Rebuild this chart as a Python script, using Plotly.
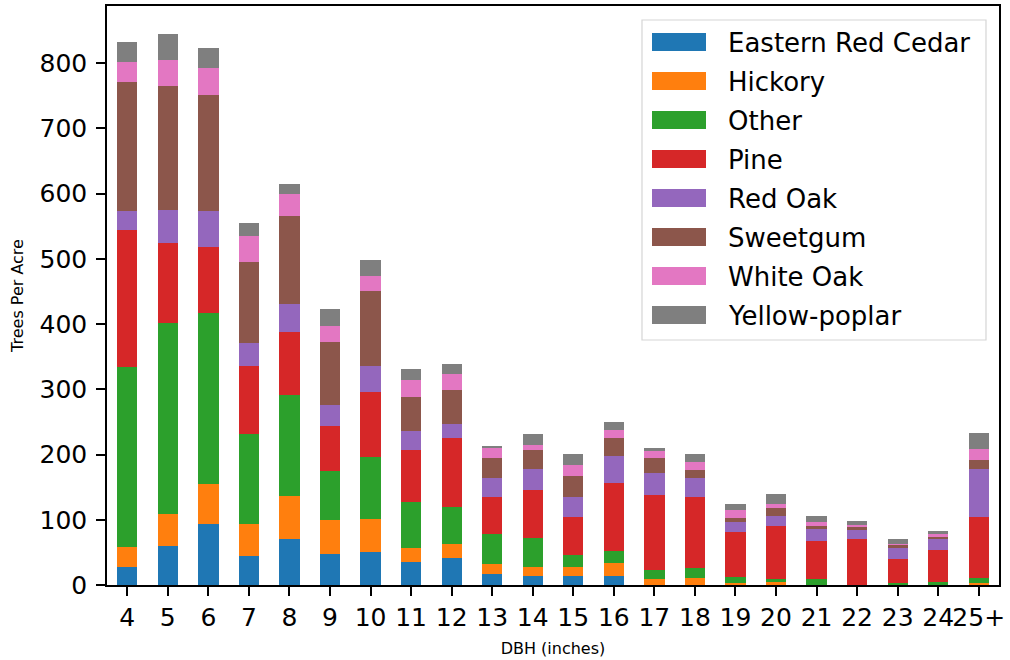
import plotly.graph_objects as go

# DBH classes (inches)
dbh_classes = ["4", "5", "6", "7", "8", "9", "10", "11", "12", "13", "14",
               "15", "16", "17", "18", "19", "20", "21", "22", "23", "24", "25+"]

# Trees per acre by species group for each DBH class
eastern_red_cedar = [28, 60, 93.5, 44, 70.5, 47.5, 50.6, 35, 41.4, 16.6, 13.8,
                     13.8, 13.8, 0, 0, 0, 0, 0, 0, 0, 0, 0]
hickory = [30, 49, 61, 49, 66, 52, 50.6, 21.5, 21.4, 15.4, 13.8,
           13.8, 20, 9.2, 10.7, 3, 4.6, 0, 0, 0, 0, 3]
other = [276, 293, 262, 138, 154, 75, 95, 70.5, 56.7, 46, 44.4,
         18.4, 18.4, 13.8, 15.3, 9.3, 4.6, 9.2, 0, 3, 4.6, 7.7]
pine = [210, 122.5, 102, 104, 98, 69, 100, 80, 105.8, 57, 73.6,
        58.7, 104, 115, 109, 69, 81.2, 58, 70.5, 37, 49, 93.5]
red_oak = [29, 50.7, 55, 35.5, 41.6, 32, 40, 29, 21.4, 29, 32,
           30.6, 41.4, 33.7, 29, 15.4, 15.3, 18.4, 13.8, 17, 17, 73.6]
sweetgum = [198, 190, 178, 124, 135, 96.5, 115, 52, 52, 30.6, 29,
            32, 27.6, 23, 12.3, 6, 12.3, 4.6, 4.6, 4.6, 3, 13.8]
white_oak = [31, 40, 41, 40, 33.5, 25, 23, 26, 24.5, 15.4, 7.6,
             16.8, 12.3, 10.7, 12.3, 12.3, 6, 6, 3, 1.5, 6, 16.8]
yellow_poplar = [30, 40, 30, 21, 15.6, 25.6, 24.5, 17, 15.3, 3, 16.8,
                 16.8, 12.3, 4.6, 12.3, 9.2, 15.5, 9.2, 6, 7.7, 3, 24.5]

species = ["Eastern Red Cedar", "Hickory", "Other", "Pine", "Red Oak",
           "Sweetgum", "White Oak", "Yellow-poplar"]
values_by_species = [eastern_red_cedar, hickory, other, pine, red_oak,
                     sweetgum, white_oak, yellow_poplar]
colors = ["#1f77b4", "#ff7f0e", "#2ca02c", "#d62728",
          "#9467bd", "#8c564b", "#e377c2", "#7f7f7f"]

FONT = "DejaVu Sans"
W, H = 1010, 660
M_L, M_R, M_T, M_B = 107, 11, 6, 75
PLOT_W = W - M_L - M_R
PLOT_H = H - M_T - M_B


def px_x(px):
    """Pixel column -> paper x."""
    return (px - M_L) / PLOT_W


def px_y(py):
    """Pixel row -> paper y."""
    return (H - M_B - py) / PLOT_H


fig = go.Figure()
for name, values, color in zip(species, values_by_species, colors):
    fig.add_trace(go.Bar(
        x=dbh_classes, y=values, name=name, showlegend=False,
        marker=dict(color=color, line=dict(width=0)),
    ))

totals = [sum(v) for v in zip(*values_by_species)]
ymax = max(totals) * 1.05

# Legend box with wide colour patches
shapes = [dict(
    type="rect", xref="paper", yref="paper",
    x0=px_x(642), x1=px_x(986), y0=px_y(340), y1=px_y(20),
    line=dict(color="#d5d5d5", width=1.2), fillcolor="rgba(255,255,255,0.8)",
    layer="above",
)]
annotations = []
row0, row_step = 42, 39
for i, (name, color) in enumerate(zip(species, colors)):
    cy = row0 + i * row_step
    shapes.append(dict(
        type="rect", xref="paper", yref="paper",
        x0=px_x(652), x1=px_x(706), y0=px_y(cy + 9), y1=px_y(cy - 9),
        line=dict(width=0), fillcolor=color, layer="above",
    ))
    annotations.append(dict(
        text=name, xref="paper", yref="paper",
        x=px_x(726), y=px_y(cy + 1), xanchor="left", yanchor="middle",
        showarrow=False, font=dict(family=FONT, size=26, color="black"),
    ))

fig.update_layout(
    width=W, height=H, autosize=False,
    barmode="stack", bargap=0.5,
    plot_bgcolor="white", paper_bgcolor="white",
    margin=dict(l=M_L, r=M_R, t=M_T, b=M_B),
    font=dict(family=FONT, color="black"),
    showlegend=False,
    shapes=shapes, annotations=annotations,
    xaxis=dict(
        type="category", range=[-0.5, 21.5], tickangle=0, automargin=False,
        showline=True, linecolor="black", linewidth=1.5, mirror=True,
        ticks="outside", ticklen=9, tickwidth=1.5, tickcolor="black",
        tickfont=dict(family=FONT, size=25, color="black"),
        showgrid=False, zeroline=False,
        title=dict(text="DBH (inches)", font=dict(family=FONT, size=16), standoff=12),
    ),
    yaxis=dict(
        range=[0, ymax], tickmode="array", automargin=False,
        tickvals=[0, 100, 200, 300, 400, 500, 600, 700, 800],
        showline=True, linecolor="black", linewidth=1.5, mirror=True,
        ticks="outside", ticklen=9, tickwidth=1.5, tickcolor="black",
        tickfont=dict(family=FONT, size=25, color="black"),
        ticklabelstandoff=4,
        showgrid=False, zeroline=False,
        title=dict(text="Trees Per Acre", font=dict(family=FONT, size=16), standoff=12),
    ),
)

fig.write_html("out.html")
